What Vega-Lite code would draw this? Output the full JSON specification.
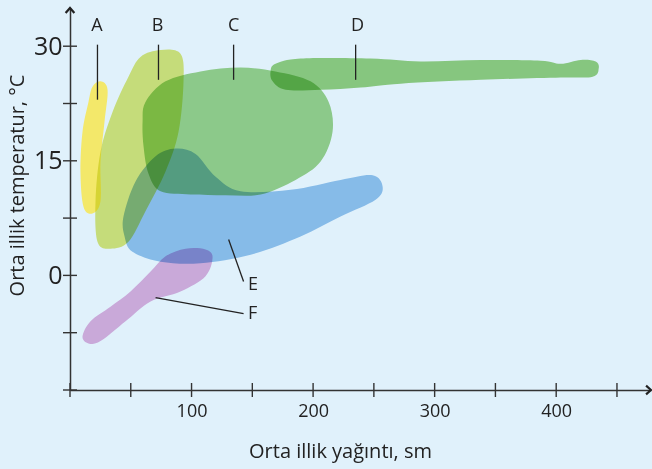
{
  "$schema": "https://vega.github.io/schema/vega-lite/v6.json",
  "autosize": {"type": "none"},
  "width": 581,
  "height": 382,
  "padding": {"left": 70, "top": 8, "right": 1, "bottom": 79},
  "background": "#e0f1fb",
  "config": {"view": {"stroke": null}, "font": "Open Sans"},
  "datasets": {
    "shapes": [
      {"s": "A", "o": 1, "x": 18.5, "y": 24.7},
      {"s": "A", "o": 2, "x": 25.1, "y": 25.4},
      {"s": "A", "o": 3, "x": 30.9, "y": 24.3},
      {"s": "A", "o": 4, "x": 28.4, "y": 20.1},
      {"s": "A", "o": 5, "x": 25.1, "y": 14.9},
      {"s": "A", "o": 6, "x": 25.1, "y": 9.7},
      {"s": "A", "o": 7, "x": 18.5, "y": 8.1},
      {"s": "A", "o": 8, "x": 11.1, "y": 9.0},
      {"s": "A", "o": 9, "x": 8.6, "y": 13.6},
      {"s": "A", "o": 10, "x": 10.3, "y": 18.8},
      {"s": "A", "o": 11, "x": 15.2, "y": 22.7},
      {"s": "B", "o": 1, "x": 58.0, "y": 28.6},
      {"s": "B", "o": 2, "x": 74.5, "y": 29.5},
      {"s": "B", "o": 3, "x": 90.9, "y": 29.0},
      {"s": "B", "o": 4, "x": 93.4, "y": 25.4},
      {"s": "B", "o": 5, "x": 89.3, "y": 18.8},
      {"s": "B", "o": 6, "x": 78.6, "y": 13.6},
      {"s": "B", "o": 7, "x": 62.1, "y": 8.4},
      {"s": "B", "o": 8, "x": 48.1, "y": 4.4},
      {"s": "B", "o": 9, "x": 33.3, "y": 3.5},
      {"s": "B", "o": 10, "x": 22.6, "y": 4.4},
      {"s": "B", "o": 11, "x": 21.0, "y": 9.7},
      {"s": "B", "o": 12, "x": 25.1, "y": 16.2},
      {"s": "B", "o": 13, "x": 35.0, "y": 21.4},
      {"s": "B", "o": 14, "x": 48.1, "y": 26.0},
      {"s": "C", "o": 1, "x": 62.1, "y": 22.7},
      {"s": "C", "o": 2, "x": 78.6, "y": 25.4},
      {"s": "C", "o": 3, "x": 107.4, "y": 26.7},
      {"s": "C", "o": 4, "x": 140.3, "y": 27.2},
      {"s": "C", "o": 5, "x": 169.1, "y": 26.7},
      {"s": "C", "o": 6, "x": 197.9, "y": 25.4},
      {"s": "C", "o": 7, "x": 212.8, "y": 22.7},
      {"s": "C", "o": 8, "x": 216.0, "y": 18.8},
      {"s": "C", "o": 9, "x": 206.2, "y": 14.9},
      {"s": "C", "o": 10, "x": 185.6, "y": 12.5},
      {"s": "C", "o": 11, "x": 156.8, "y": 10.6},
      {"s": "C", "o": 12, "x": 128.0, "y": 10.5},
      {"s": "C", "o": 13, "x": 99.2, "y": 10.6},
      {"s": "C", "o": 14, "x": 74.5, "y": 11.0},
      {"s": "C", "o": 15, "x": 64.6, "y": 13.3},
      {"s": "C", "o": 16, "x": 60.5, "y": 16.9},
      {"s": "C", "o": 17, "x": 59.7, "y": 20.1},
      {"s": "D", "o": 1, "x": 169.1, "y": 27.7},
      {"s": "D", "o": 2, "x": 189.7, "y": 28.4},
      {"s": "D", "o": 3, "x": 247.3, "y": 28.4},
      {"s": "D", "o": 4, "x": 288.5, "y": 28.0},
      {"s": "D", "o": 5, "x": 337.9, "y": 28.2},
      {"s": "D", "o": 6, "x": 387.2, "y": 28.1},
      {"s": "D", "o": 7, "x": 403.7, "y": 27.7},
      {"s": "D", "o": 8, "x": 420.2, "y": 28.2},
      {"s": "D", "o": 9, "x": 432.5, "y": 28.0},
      {"s": "D", "o": 10, "x": 435.0, "y": 27.1},
      {"s": "D", "o": 11, "x": 430.0, "y": 26.0},
      {"s": "D", "o": 12, "x": 403.7, "y": 25.9},
      {"s": "D", "o": 13, "x": 337.9, "y": 25.6},
      {"s": "D", "o": 14, "x": 272.0, "y": 25.1},
      {"s": "D", "o": 15, "x": 239.1, "y": 24.6},
      {"s": "D", "o": 16, "x": 206.2, "y": 24.3},
      {"s": "D", "o": 17, "x": 177.4, "y": 24.3},
      {"s": "D", "o": 18, "x": 166.7, "y": 25.4},
      {"s": "D", "o": 19, "x": 165.0, "y": 26.7},
      {"s": "E", "o": 1, "x": 44.0, "y": 7.7},
      {"s": "E", "o": 2, "x": 53.9, "y": 12.3},
      {"s": "E", "o": 3, "x": 70.4, "y": 15.6},
      {"s": "E", "o": 4, "x": 86.8, "y": 16.6},
      {"s": "E", "o": 5, "x": 103.3, "y": 15.9},
      {"s": "E", "o": 6, "x": 119.8, "y": 12.9},
      {"s": "E", "o": 7, "x": 140.3, "y": 11.0},
      {"s": "E", "o": 8, "x": 181.5, "y": 11.2},
      {"s": "E", "o": 9, "x": 222.6, "y": 12.5},
      {"s": "E", "o": 10, "x": 249.0, "y": 13.1},
      {"s": "E", "o": 11, "x": 257.2, "y": 11.6},
      {"s": "E", "o": 12, "x": 251.4, "y": 9.9},
      {"s": "E", "o": 13, "x": 222.6, "y": 7.7},
      {"s": "E", "o": 14, "x": 189.7, "y": 5.1},
      {"s": "E", "o": 15, "x": 148.6, "y": 2.7},
      {"s": "E", "o": 16, "x": 107.4, "y": 1.6},
      {"s": "E", "o": 17, "x": 74.5, "y": 1.8},
      {"s": "E", "o": 18, "x": 51.4, "y": 3.1},
      {"s": "E", "o": 19, "x": 44.9, "y": 5.1},
      {"s": "F", "o": 1, "x": 111.5, "y": 3.4},
      {"s": "F", "o": 2, "x": 117.3, "y": 2.4},
      {"s": "F", "o": 3, "x": 111.5, "y": -0.1},
      {"s": "F", "o": 4, "x": 90.9, "y": -2.1},
      {"s": "F", "o": 5, "x": 66.3, "y": -3.4},
      {"s": "F", "o": 6, "x": 45.7, "y": -6.0},
      {"s": "F", "o": 7, "x": 25.1, "y": -8.6},
      {"s": "F", "o": 8, "x": 15.2, "y": -8.9},
      {"s": "F", "o": 9, "x": 10.3, "y": -8.0},
      {"s": "F", "o": 10, "x": 16.9, "y": -6.0},
      {"s": "F", "o": 11, "x": 33.3, "y": -4.1},
      {"s": "F", "o": 12, "x": 49.8, "y": -2.1},
      {"s": "F", "o": 13, "x": 66.3, "y": 0.5},
      {"s": "F", "o": 14, "x": 78.6, "y": 2.5},
      {"s": "F", "o": 15, "x": 95.1, "y": 3.5}
    ],
    "xticks": [
      {"v": 0}, {"v": 50}, {"v": 100}, {"v": 150}, {"v": 200},
      {"v": 250}, {"v": 300}, {"v": 350}, {"v": 400}, {"v": 450}
    ],
    "yticks": [
      {"v": -15}, {"v": -7.5}, {"v": 0}, {"v": 7.5}, {"v": 15}, {"v": 22.5}, {"v": 30}
    ],
    "arrows": [
      {"x": 0, "y": 35, "dir": "up"},
      {"x": 478, "y": -15, "dir": "right"}
    ],
    "leaders": [
      {"x": 22.6, "y": 30.2, "x2": 22.6, "y2": 23.0},
      {"x": 72.8, "y": 30.2, "x2": 72.8, "y2": 25.6},
      {"x": 134.6, "y": 30.2, "x2": 134.6, "y2": 25.6},
      {"x": 235.0, "y": 30.2, "x2": 235.0, "y2": 25.6},
      {"x": 130.5, "y": 4.7, "x2": 142.8, "y2": -0.8},
      {"x": 70.4, "y": -2.9, "x2": 142.8, "y2": -5.0}
    ],
    "letters": [
      {"t": "A", "x": 22.1, "y": 32.7, "a": "center"},
      {"t": "B", "x": 72.0, "y": 32.7, "a": "center"},
      {"t": "C", "x": 134.6, "y": 32.7, "a": "center"},
      {"t": "D", "x": 236.6, "y": 32.7, "a": "center"},
      {"t": "E", "x": 146.5, "y": -1.3, "a": "left"},
      {"t": "F", "x": 146.5, "y": -5.0, "a": "left"}
    ]
  },
  "layer": [
    {
      "data": {"name": "shapes"},
      "transform": [{"filter": "datum.s === 'A'"}],
      "mark": {"type": "line", "interpolate": "cardinal-closed", "strokeWidth": 0, "strokeOpacity": 0, "fill": "#f3e86a", "fillOpacity": 1},
      "encoding": {
        "x": {
          "field": "x", "type": "quantitative",
          "scale": {"domain": [0, 478], "nice": false, "zero": false},
          "axis": {
            "values": [100, 200, 300, 400], "ticks": false, "tickSize": 0, "grid": false,
            "domainColor": "#333333", "domainWidth": 1.5,
            "labelFontSize": 18, "labelColor": "#222222", "labelPadding": 12, "labelFont": "Open Sans",
            "title": "Orta illik yağıntı, sm", "titleFontSize": 20, "titleFontWeight": "normal",
            "titleColor": "#222222", "titleFont": "Open Sans",
            "titleX": 270, "titleY": 61, "titleAlign": "center", "titleBaseline": "middle"
          }
        },
        "y": {
          "field": "y", "type": "quantitative",
          "scale": {"domain": [-15, 35], "nice": false, "zero": false},
          "axis": {
            "values": [0, 15, 30], "ticks": false, "tickSize": 0, "grid": false,
            "domainColor": "#333333", "domainWidth": 1.5,
            "labelFontSize": 25, "labelColor": "#222222", "labelPadding": 8, "labelFont": "Open Sans",
            "title": "Orta illik temperatur, °C", "titleFontSize": 20, "titleFontWeight": "normal",
            "titleColor": "#222222", "titleFont": "Open Sans",
            "titleX": -53, "titleY": 177, "titleAngle": -90, "titleAlign": "center", "titleBaseline": "middle"
          }
        },
        "order": {"field": "o", "type": "quantitative"}
      }
    },
    {
      "data": {"name": "shapes"},
      "transform": [{"filter": "datum.s !== 'A'"}],
      "mark": {"type": "line", "interpolate": "cardinal-closed", "strokeWidth": 0, "strokeOpacity": 0, "fillOpacity": 1, "blend": "multiply"},
      "encoding": {
        "x": {"field": "x", "type": "quantitative"},
        "y": {"field": "y", "type": "quantitative"},
        "fill": {
          "field": "s", "type": "nominal",
          "scale": {"domain": ["B", "C", "D", "E", "F"], "range": ["#e1e97c", "#9fd58c", "#99d281", "#99c6ec", "#e5b3dd"]},
          "legend": null
        },
        "detail": {"field": "s"},
        "order": {"field": "o", "type": "quantitative"}
      }
    },
    {
      "data": {"name": "xticks"},
      "mark": {"type": "tick", "orient": "vertical", "size": 14, "thickness": 1.4, "color": "#333333", "opacity": 1},
      "encoding": {
        "x": {"field": "v", "type": "quantitative"},
        "y": {"datum": -15, "type": "quantitative"}
      }
    },
    {
      "data": {"name": "yticks"},
      "mark": {"type": "tick", "orient": "horizontal", "size": 14, "thickness": 1.4, "color": "#333333", "opacity": 1},
      "encoding": {
        "x": {"datum": 0, "type": "quantitative"},
        "y": {"field": "v", "type": "quantitative"}
      }
    },
    {
      "data": {"name": "arrows"},
      "transform": [{"filter": "datum.dir === 'up'"}],
      "mark": {"type": "point", "shape": "M-0.8,0.9L0,0L0.8,0.9", "size": 120, "filled": false, "stroke": "#222222", "strokeWidth": 2.2, "opacity": 1},
      "encoding": {
        "x": {"field": "x", "type": "quantitative"},
        "y": {"field": "y", "type": "quantitative"}
      }
    },
    {
      "data": {"name": "arrows"},
      "transform": [{"filter": "datum.dir === 'right'"}],
      "mark": {"type": "point", "shape": "M-0.9,-0.8L0,0L-0.9,0.8", "size": 120, "filled": false, "stroke": "#222222", "strokeWidth": 2.2, "opacity": 1},
      "encoding": {
        "x": {"field": "x", "type": "quantitative"},
        "y": {"field": "y", "type": "quantitative"}
      }
    },
    {
      "data": {"name": "leaders"},
      "mark": {"type": "rule", "color": "#222222", "strokeWidth": 1.3},
      "encoding": {
        "x": {"field": "x", "type": "quantitative"},
        "y": {"field": "y", "type": "quantitative"},
        "x2": {"field": "x2"},
        "y2": {"field": "y2"}
      }
    },
    {
      "data": {"name": "letters"},
      "transform": [{"filter": "datum.a === 'center'"}],
      "mark": {"type": "text", "fontSize": 18, "color": "#222222", "align": "center", "baseline": "middle", "font": "Open Sans"},
      "encoding": {
        "x": {"field": "x", "type": "quantitative"},
        "y": {"field": "y", "type": "quantitative"},
        "text": {"field": "t"}
      }
    },
    {
      "data": {"name": "letters"},
      "transform": [{"filter": "datum.a === 'left'"}],
      "mark": {"type": "text", "fontSize": 18, "color": "#222222", "align": "left", "baseline": "middle", "font": "Open Sans"},
      "encoding": {
        "x": {"field": "x", "type": "quantitative"},
        "y": {"field": "y", "type": "quantitative"},
        "text": {"field": "t"}
      }
    }
  ]
}
